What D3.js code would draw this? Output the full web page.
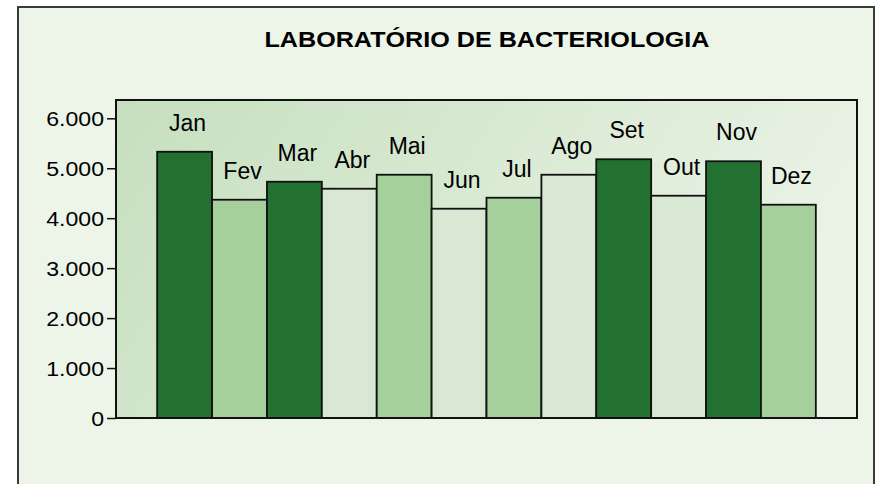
<!DOCTYPE html>
<html lang="pt">
<head>
  <meta charset="UTF-8">
  <title>Laboratório de Bacteriologia</title>
  <script src="https://d3js.org/d3.v7.min.js"></script>
  <style>
    body { margin: 0; background: #fff; }
    text { font-family: "Liberation Sans", Arial, sans-serif; fill: #000; }
    .tick text { transform-box: fill-box; transform-origin: right center; transform: scaleX(1.1); }
  </style>
</head>
<body>
  <svg width="877" height="484"></svg>

  <script>
    // data
    const months = ["Jan", "Fev", "Mar", "Abr", "Mai", "Jun", "Jul", "Ago", "Set", "Out", "Nov", "Dez"];
    const values = [5330, 4370, 4730, 4590, 4870, 4190, 4410, 4870, 5180, 4450, 5140, 4270];
    const shades = ["dark", "mid", "dark", "light", "mid", "light", "mid", "light", "dark", "light", "dark", "mid"];
    const yTicks = [0, 1000, 2000, 3000, 4000, 5000, 6000];

    const colors = { dark: "#237131", mid: "#a5cf9b", light: "#d9e8d4" };

    const svg = d3.select("svg");

    // outer frame
    svg.append("rect")
      .attr("x", 18).attr("y", 7)
      .attr("width", 856).attr("height", 490)
      .attr("fill", "#edf5e9")
      .attr("stroke", "#3a3a3a")
      .attr("stroke-width", 2);

    svg.append("text")
      .attr("x", 487).attr("y", 47)
      .attr("text-anchor", "middle")
      .attr("font-size", 22)
      .attr("font-weight", "bold")
      .attr("textLength", 445)
      .attr("lengthAdjust", "spacingAndGlyphs")
      .text("LABORATÓRIO DE BACTERIOLOGIA");

    const plot = { left: 116, right: 857, top: 100, bottom: 418 };

    const x = d3.scaleBand()
      .domain(months)
      .range([plot.left, plot.right])
      .paddingInner(0)
      .paddingOuter(0.75);

    const y = d3.scaleLinear()
      .domain([0, 6000])
      .range([plot.bottom, 118.3]);

    // plot background gradient
    const grad = svg.append("defs").append("linearGradient")
      .attr("id", "bg").attr("x1", "0%").attr("x2", "100%").attr("y1", "0%").attr("y2", "30%");
    grad.append("stop").attr("offset", "0%").attr("stop-color", "#c6dfbe");
    grad.append("stop").attr("offset", "100%").attr("stop-color", "#eaf3e6");

    svg.append("rect")
      .attr("x", plot.left).attr("y", plot.top)
      .attr("width", plot.right - plot.left).attr("height", plot.bottom - plot.top)
      .attr("fill", "url(#bg)");

    // bars
    svg.append("g")
      .selectAll("rect")
      .data(months)
      .enter().append("rect")
      .attr("x", d => x(d))
      .attr("y", (d, i) => y(values[i]))
      .attr("width", x.bandwidth())
      .attr("height", (d, i) => y(0) - y(values[i]))
      .attr("fill", (d, i) => colors[shades[i]])
      .attr("stroke", "#111")
      .attr("stroke-width", 1.8);

    // month labels above bars
    svg.append("g")
      .selectAll("text")
      .data(months)
      .enter().append("text")
      .attr("x", d => x(d) + x.bandwidth() / 2 + 3)
      .attr("y", (d, i) => y(values[i]) - 21)
      .attr("text-anchor", "middle")
      .attr("font-size", 23)
      .text(d => d);

    // plot border
    svg.append("rect")
      .attr("x", plot.left).attr("y", plot.top)
      .attr("width", plot.right - plot.left).attr("height", plot.bottom - plot.top)
      .attr("fill", "none")
      .attr("stroke", "#111")
      .attr("stroke-width", 2);

    // y axis
    const axis = svg.append("g")
      .attr("transform", `translate(${plot.left},0)`)
      .call(d3.axisLeft(y)
        .tickValues(yTicks)
        .tickSize(9)
        .tickPadding(3)
        .tickFormat(d => d3.format(",")(d).replace(/,/g, ".")));

    axis.select(".domain").remove();
    axis.selectAll(".tick line").attr("stroke", "#111").attr("stroke-width", 1.5);
    axis.selectAll(".tick text")
      .attr("font-size", 21)
      .attr("font-family", "Liberation Sans, Arial, sans-serif")
      .attr("fill", "#000")
      .attr("dy", "0.36em");
  </script>
</body>
</html>
